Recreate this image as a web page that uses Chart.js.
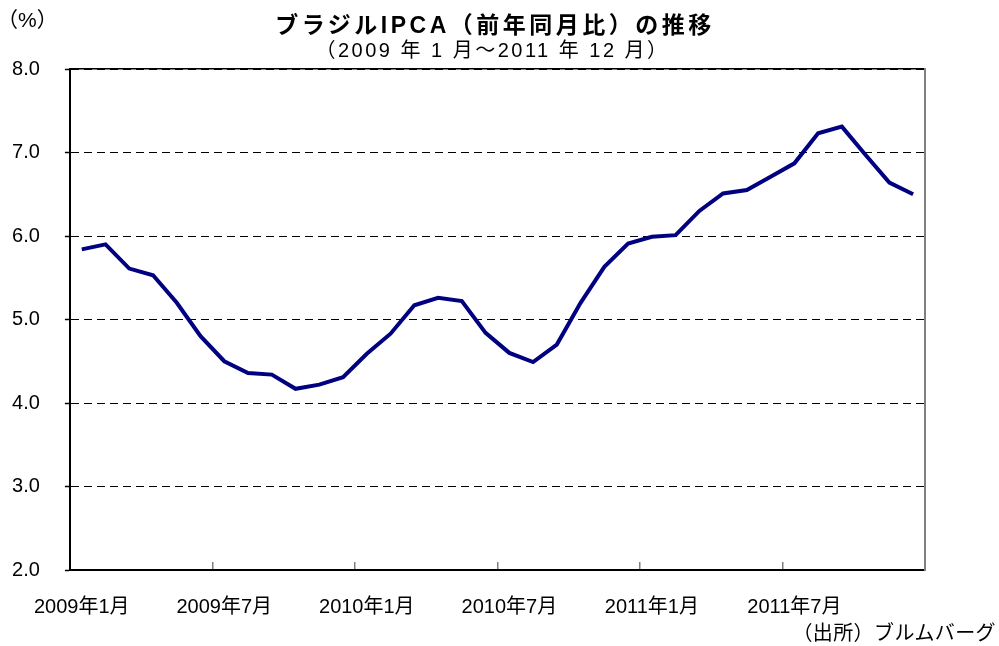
<!DOCTYPE html>
<html lang="ja">
<head>
<meta charset="utf-8">
<title>ブラジルIPCA（前年同月比）の推移</title>
<script src="https://cdn.jsdelivr.net/npm/chart.js@4/dist/chart.umd.min.js"></script>
<style>
  html, body { margin: 0; padding: 0; background: #fff; }
  #wrap { position: relative; width: 999px; height: 646px; overflow: hidden; }
  #c { position: absolute; left: 0; top: 0; }
  .txt { position: absolute; white-space: nowrap; color: #000; line-height: 1;
         font-family: "Liberation Sans", "Noto Sans CJK JP", sans-serif; }
  #title { left: 0; width: 990px; top: 14px; text-align: center; font-size: 23px; font-weight: bold; letter-spacing: 3.5px; }
  #subtitle { left: 0; width: 985px; top: 40px; text-align: center; font-size: 20px; letter-spacing: 2.5px; }
  #unit { left: -3px; top: 9px; font-size: 21px; }
  #source { right: 3px; top: 623px; font-size: 20px; letter-spacing: 0.4px; }
</style>
</head>
<body>
<div id="wrap">
  <canvas id="c" width="999" height="646"></canvas>
  <div class="txt" id="title">ブラジルIPCA（前年同月比）の推移</div>
  <div class="txt" id="subtitle">（2009 年 1 月～2011 年 12 月）</div>
  <div class="txt" id="unit">（%）</div>
  <div class="txt" id="source">（出所）ブルムバーグ</div>
</div>
<script>
// ---- data ----
const months = [
  '2009年1月','2009年2月','2009年3月','2009年4月','2009年5月','2009年6月',
  '2009年7月','2009年8月','2009年9月','2009年10月','2009年11月','2009年12月',
  '2010年1月','2010年2月','2010年3月','2010年4月','2010年5月','2010年6月',
  '2010年7月','2010年8月','2010年9月','2010年10月','2010年11月','2010年12月',
  '2011年1月','2011年2月','2011年3月','2011年4月','2011年5月','2011年6月',
  '2011年7月','2011年8月','2011年9月','2011年10月','2011年11月','2011年12月'
];
const ipcaYoY = [
  5.84, 5.90, 5.61, 5.53, 5.20, 4.80, 4.50, 4.36, 4.34, 4.17, 4.22, 4.31,
  4.59, 4.83, 5.17, 5.26, 5.22, 4.84, 4.60, 4.49, 4.70, 5.20, 5.63, 5.91,
  5.99, 6.01, 6.30, 6.51, 6.55, 6.71, 6.87, 7.23, 7.31, 6.97, 6.64, 6.50
];
const yMin = 2.0;
const yMax = 8.0;
const yStep = 1.0;
const labelEvery = 6;

const FONT = '"Liberation Sans", "Noto Sans CJK JP", sans-serif';
Chart.defaults.font.family = FONT;
Chart.defaults.color = '#000';

const xTickColor = (c) => (c.index === undefined || (c.index % labelEvery === 0 && c.index > 0)) ? '#7f7f7f' : 'rgba(0,0,0,0)';

new Chart(document.getElementById('c'), {
  type: 'line',
  data: {
    labels: months,
    datasets: [{
      label: 'IPCA',
      data: ipcaYoY,
      borderColor: '#000080',
      backgroundColor: '#000080',
      borderWidth: 4,
      pointRadius: 0,
      tension: 0,
      fill: false,
      xAxisID: 'x',
      yAxisID: 'y'
    }]
  },
  options: {
    responsive: false,
    animation: false,
    devicePixelRatio: 1,
    layout: { padding: { top: 69, right: 74, left: 0, bottom: 0 } },
    plugins: {
      legend: { display: false },
      tooltip: { enabled: false },
      title: { display: false }
    },
    scales: {
      x: {
        type: 'category',
        position: 'bottom',
        offset: true,
        grid: {
          display: true,
          offset: true,
          drawOnChartArea: false,
          drawTicks: true,
          tickLength: -8,
          color: xTickColor,
          tickColor: xTickColor,
          lineWidth: 1.5,
          tickBorderDash: []
        },
        border: { display: true, color: '#000', width: 2 },
        ticks: {
          autoSkip: false,
          maxRotation: 0,
          minRotation: 0,
          padding: 33,
          color: '#000',
          font: { size: 20 },
          callback: function (val, idx) {
            return idx % labelEvery === 0 ? this.getLabelForValue(val) : '';
          }
        },
        afterFit: (s) => { s.height = 76; }
      },
      x2: {
        type: 'category',
        position: 'top',
        labels: months,
        offset: true,
        grid: { display: false, drawTicks: false },
        border: { display: true, color: '#000', width: 1.5 },
        ticks: { display: false },
        afterFit: (s) => { s.height = 0; }
      },
      y: {
        type: 'linear',
        position: 'left',
        min: yMin,
        max: yMax,
        grid: {
          display: true,
          color: '#000',
          lineWidth: 1,
          drawTicks: true,
          tickLength: 5,
          tickColor: '#000',
          tickWidth: 1.5,
          tickBorderDash: [],
          z: -1
        },
        border: { display: true, color: '#000', width: 2, dash: [8, 5] },
        ticks: {
          stepSize: yStep,
          padding: 25,
          color: '#000',
          font: { size: 20 },
          callback: (v) => Number(v).toFixed(1)
        },
        afterFit: (s) => { s.width = 68; }
      },
      y2: {
        type: 'linear',
        position: 'right',
        min: yMin,
        max: yMax,
        grid: { display: false, drawTicks: false },
        border: { display: true, color: '#808080', width: 2 },
        ticks: { display: false },
        afterFit: (s) => { s.width = 0; }
      }
    }
  }
});
</script>
</body>
</html>
